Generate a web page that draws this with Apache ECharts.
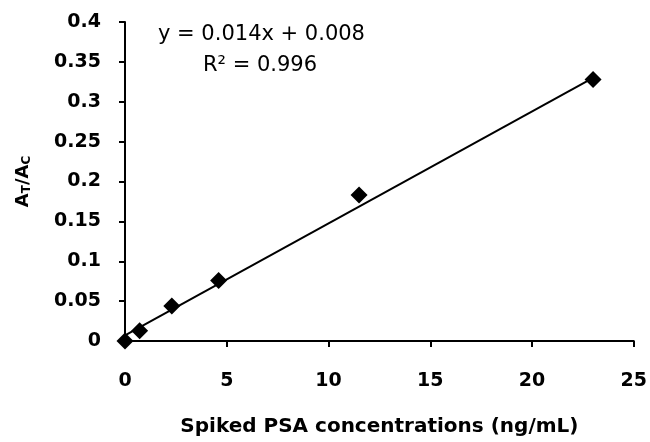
<!DOCTYPE html>
<html>
<head>
<meta charset="utf-8">
<script src="https://cdn.jsdelivr.net/npm/echarts@6/dist/echarts.min.js"></script>
<style>
html,body{margin:0;padding:0;background:#fff;}
#main{width:650px;height:442px;}
</style>
</head>
<body>
<div id="main"></div>
<script>
// data
var concX = [0, 0.72, 2.3, 4.6, 11.5, 23];
var ratioY = [0, 0.013, 0.044, 0.076, 0.183, 0.328];
// trendline end points (y = 0.014x + 0.008)
var trendX = [0, 23];
var trendY = [0.007, 0.330];
var xTicks = [0, 5, 10, 15, 20, 25];
var yTicks = [0, 0.05, 0.1, 0.15, 0.2, 0.25, 0.3, 0.35, 0.4];

var font = '"DejaVu Sans", sans-serif';
var myChart = echarts.init(document.getElementById('main'));

var points = [];
for (var i = 0; i < concX.length; i++) {
    points.push([concX[i], ratioY[i]]);
}
var trend = [];
for (var i = 0; i < trendX.length; i++) {
    trend.push([trendX[i], trendY[i]]);
}

var option = {
    animation: false,
    backgroundColor: '#fff',
    grid: {left: 125, right: 16, top: 22, bottom: 100},
    xAxis: {
        type: 'value',
        min: xTicks[0],
        max: xTicks[xTicks.length - 1],
        interval: 5,
        splitLine: {show: false},
        axisLine: {onZero: false, lineStyle: {color: '#000', width: 2}},
        axisTick: {show: true, length: 6, lineStyle: {color: '#000', width: 2}},
        axisLabel: {color: '#000', fontSize: 19, fontWeight: 'bold', fontFamily: font, margin: 31},
        name: 'Spiked PSA concentrations (ng/mL)',
        nameLocation: 'middle',
        nameGap: 76,
        nameTextStyle: {color: '#000', fontSize: 20, fontWeight: 'bold', fontFamily: font}
    },
    yAxis: {
        type: 'value',
        min: yTicks[0],
        max: yTicks[yTicks.length - 1],
        interval: 0.05,
        splitLine: {show: false},
        axisLine: {lineStyle: {color: '#000', width: 2}},
        axisTick: {show: true, length: 6, lineStyle: {color: '#000', width: 2}},
        axisLabel: {color: '#000', fontSize: 19, fontWeight: 'bold', fontFamily: font, margin: 24},
        name: '{a|A}{s|T}{a|/A}{s|C}',
        nameLocation: 'middle',
        nameGap: 92,
        nameRotate: 90,
        nameTextStyle: {
            rich: {
                a: {fontSize: 18, fontWeight: 'bold', color: '#000', fontFamily: font},
                s: {fontSize: 12, fontWeight: 'bold', color: '#000', fontFamily: font, verticalAlign: 'bottom', padding: [8, 0, 0, 0]}
            }
        }
    },
    graphic: [
        {type: 'text', left: 158, top: 24, style: {text: 'y = 0.014x + 0.008', fill: '#000', font: '21px ' + font}},
        {type: 'text', left: 203, top: 55, style: {text: 'R² = 0.996', fill: '#000', font: '21px ' + font}}
    ],
    series: [
        {
            type: 'line',
            data: trend,
            symbol: 'none',
            lineStyle: {color: '#000', width: 2},
            z: 2
        },
        {
            type: 'scatter',
            data: points,
            symbol: 'diamond',
            symbolSize: 17,
            itemStyle: {color: '#000', opacity: 1},
            z: 3
        }
    ]
};
myChart.setOption(option);
</script>
</body>
</html>
